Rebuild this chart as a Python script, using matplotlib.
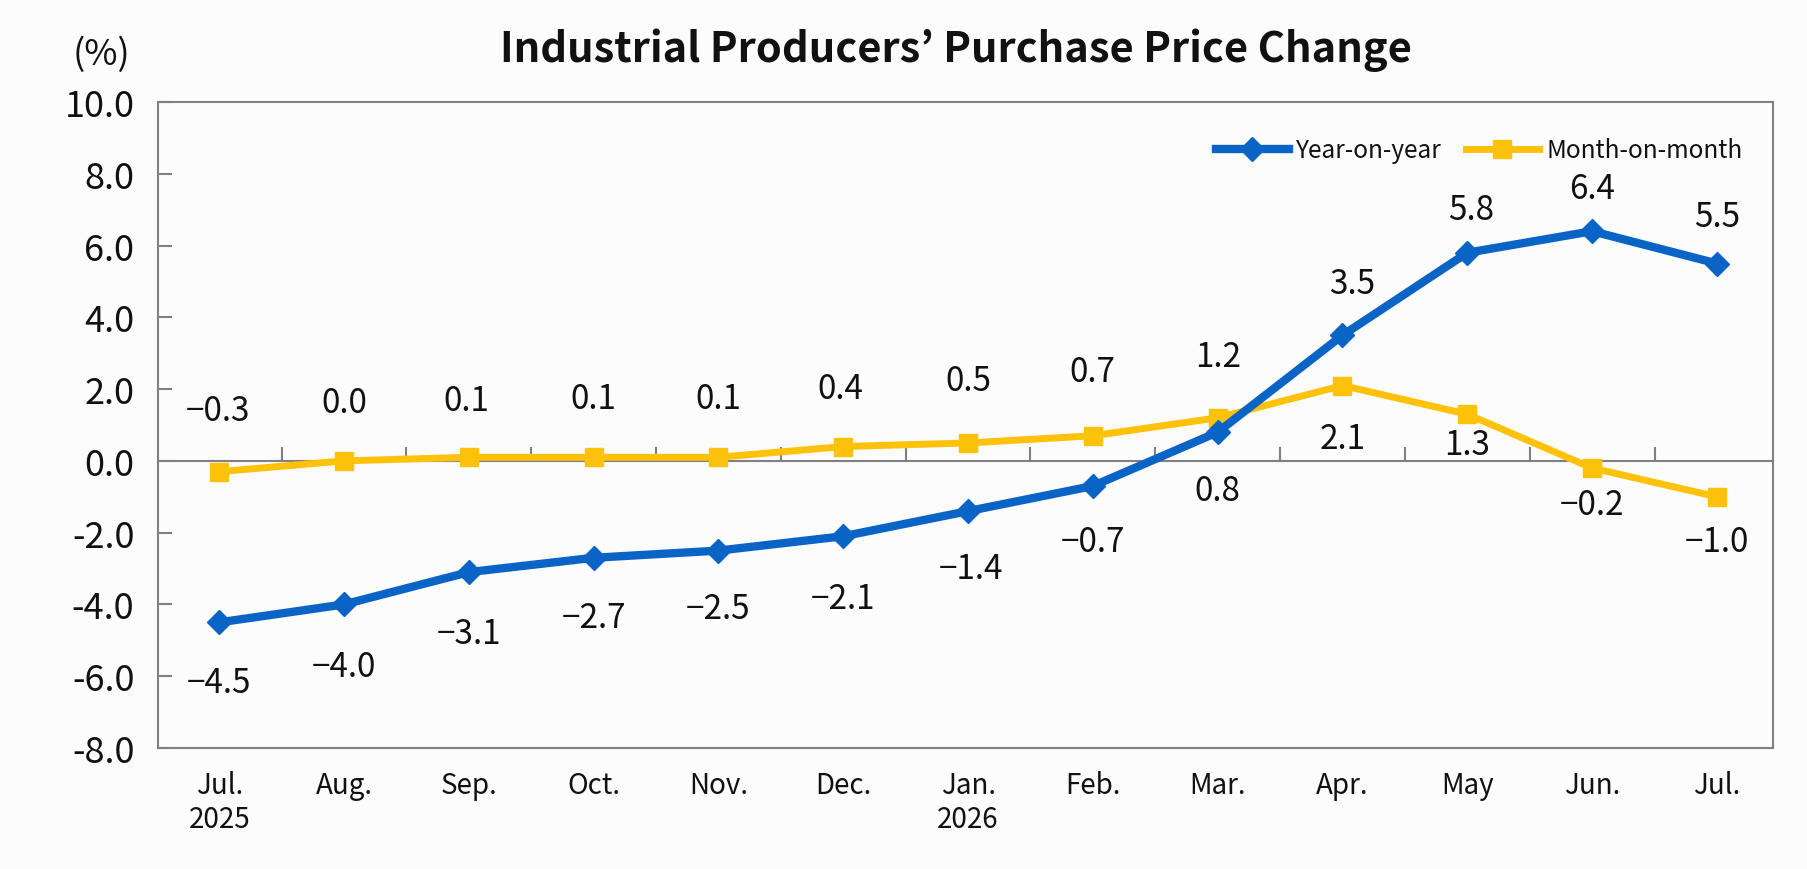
import numpy as np
import matplotlib.pyplot as plt

# months shown on the x axis
months = ['Jul.\n2025', 'Aug.', 'Sep.', 'Oct.', 'Nov.', 'Dec.', 'Jan.\n2026',
          'Feb.', 'Mar.', 'Apr.', 'May', 'Jun.', 'Jul.']

# purchase price change (%)
yoy = [-4.5, -4.0, -3.1, -2.7, -2.5, -2.1, -1.4, -0.7, 0.8, 3.5, 5.8, 6.4, 5.5]
mom = [-0.3, 0.0, 0.1, 0.1, 0.1, 0.4, 0.5, 0.7, 1.2, 2.1, 1.3, -0.2, -1.0]

yticks = np.arange(-8, 10.1, 2)

# label offsets in points (layout only)
yoy_dx = [0, 0, 0, 0, 0, 0, 2, 0, 0, 7, 3, 0, 0]
yoy_dy = [-43, -45, -44, -43, -42, -45, -41, -40, -42, 37, 31, 31, 34]
mom_dx = [-1, 0, -2, 0, 0, -2, 0, 0, 0, 0, 0, 0, 0]
mom_dy = [44, 42, 41, 42, 42, 42, 45, 46, 44, -38, -22, -26, -32]

blue = '#0A64C6'
yellow = '#FFC20A'
gray = '#808080'
bg = '#FCFCFC'
ink = '#111111'

plt.rcParams['font.family'] = ['Noto Sans CJK JP', 'DejaVu Sans']
plt.rcParams['axes.unicode_minus'] = False


def fmt(v):
    return f'{v:.1f}'.replace('-', '\u2212')


fig = plt.figure(figsize=(18.08, 8.70), dpi=100, facecolor=bg)
ax = fig.add_axes([0.0874, 0.1391, 0.8933, 0.7425], facecolor=bg)

x = np.arange(len(months))

ax.axhline(0, color=gray, linewidth=1.5, zorder=1)
# small category separators standing on the zero line
ax.vlines(x[:-1] + 0.5, 0, 0.4, color=gray, linewidth=1.5, zorder=1)

ax.plot(x, yoy, color=blue, linewidth=6, marker='D', markersize=12,
        label='Year-on-year', zorder=3)
ax.plot(x, mom, color=yellow, linewidth=5, marker='s', markersize=13,
        label='Month-on-month', zorder=2)

for i in range(len(x)):
    ax.annotate(fmt(yoy[i]), (x[i], yoy[i]), xytext=(yoy_dx[i], yoy_dy[i]),
                textcoords='offset points', ha='center', va='center',
                fontsize=24, color=ink, zorder=4)
    ax.annotate(fmt(mom[i]), (x[i], mom[i]), xytext=(mom_dx[i], mom_dy[i]),
                textcoords='offset points', ha='center', va='center',
                fontsize=24, color=ink, zorder=4)

ax.set_xlim(-0.49, 12.45)
ax.set_ylim(-8, 10)
ax.set_yticks(yticks)
ax.set_yticklabels([f'{v:.1f}' for v in yticks])
ax.set_xticks(x)
ax.set_xticklabels(months, linespacing=1.15)

ax.tick_params(axis='y', direction='in', length=10, width=1.5, color=gray,
               labelsize=26, pad=17, labelcolor=ink)
ax.tick_params(axis='x', length=0, labelsize=20, pad=16, labelcolor=ink)

for s in ax.spines.values():
    s.set_color(gray)
    s.set_linewidth(1.5)

leg = ax.legend(loc='center right', bbox_to_anchor=(0.981, 0.925), frameon=False,
                fontsize=17.5, handlelength=3.0, handletextpad=0.3,
                columnspacing=1.0, ncol=2, borderpad=0, borderaxespad=0)
for t in leg.get_texts():
    t.set_color(ink)

fig.text(0.529, 0.942, 'Industrial Producers\u2019 Purchase Price Change',
         ha='center', va='center', fontsize=30, fontweight='bold', color=ink)
fig.text(0.056, 0.937, '(%)', ha='center', va='center', fontsize=26,
         color=ink)

fig.savefig('out.png', dpi=100, facecolor=bg)
